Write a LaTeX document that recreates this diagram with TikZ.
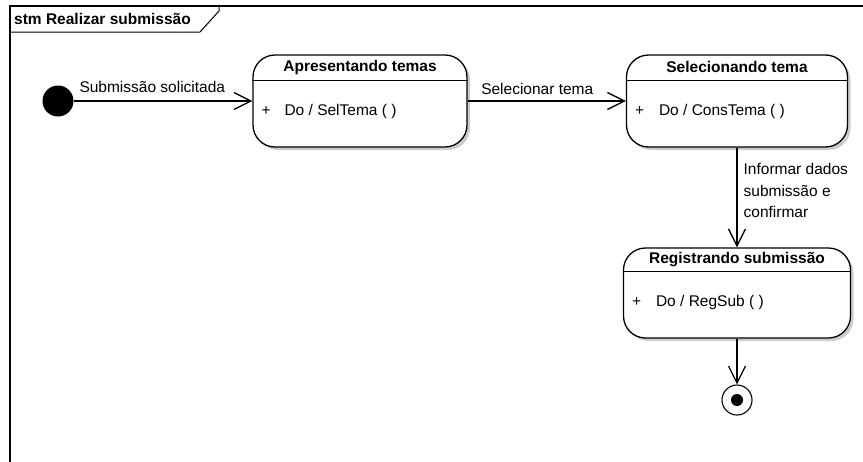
\documentclass[tikz,border=0pt]{standalone}
\usepackage{fontspec}
\setmainfont{Liberation Sans}
\usetikzlibrary{arrows.meta,shadows}

\tikzset{
  state/.style={draw, line width=1.3pt, rounded corners=22pt, fill=white,
    drop shadow={shadow xshift=3pt, shadow yshift=-3pt, fill=black!20, opacity=1}},
  trans/.style={line width=1.3pt, -{Straight Barb[length=17pt,width=17pt]}},
  lbl/.style={font=\fontsize{15.5}{21.5}\selectfont, inner sep=0pt},
  headlbl/.style={font=\bfseries\fontsize{15.5}{21.5}\selectfont, inner sep=0pt},
}

\begin{document}
\begin{tikzpicture}[x=1pt,y=-1pt]
		\useasboundingbox (0,0) rectangle (863,461);

		\draw [line width=1.3pt] (870,6) -- (10,6) -- (10,470);
		\draw [line width=1pt] (10,32) -- (200,32) -- (219,11) -- (219,6);
		\node [headlbl, anchor=west] (title) at (14,19) {stm Realizar submissão};

		\node [fill, circle, minimum size=31pt, inner sep=0pt] (init) at (58,101) {};

		\node [state, minimum width=214pt, minimum height=92pt] (apres) at (360,101) {};
		\draw [line width=1pt] ([yshift=-26pt]apres.north west) -- ([yshift=-26pt]apres.north east);
		\node [headlbl] (apreshead) at ([yshift=-13pt]apres.north) {Apresentando temas};
		\node [lbl, anchor=west] (apresplus) at ([xshift=9pt,yshift=-10pt]apres.west) {+};
		\node [lbl, anchor=west] (apresdo) at ([xshift=32pt,yshift=-10pt]apres.west) {Do / SelTema ( )};

		\node [state, minimum width=221pt, minimum height=92pt] (selec) at (737,101) {};
		\draw [line width=1pt] ([yshift=-26pt]selec.north west) -- ([yshift=-26pt]selec.north east);
		\node [headlbl] (selechead) at ([yshift=-13pt]selec.north) {Selecionando tema};
		\node [lbl, anchor=west] (selecplus) at ([xshift=9pt,yshift=-10pt]selec.west) {+};
		\node [lbl, anchor=west] (selecdo) at ([xshift=33pt,yshift=-10pt]selec.west) {Do / ConsTema ( )};

		\node [state, minimum width=227pt, minimum height=90pt] (regis) at (737,293) {};
		\draw [line width=1pt] ([yshift=-24pt]regis.north west) -- ([yshift=-24pt]regis.north east);
		\node [headlbl] (regishead) at ([yshift=-12pt]regis.north) {Registrando submissão};
		\node [lbl, anchor=west] (regisplus) at ([xshift=9pt,yshift=-9pt]regis.west) {+};
		\node [lbl, anchor=west] (regisdo) at ([xshift=33pt,yshift=-9pt]regis.west) {Do / RegSub ( )};

		\node [draw, circle, line width=1.1pt, minimum size=30pt, inner sep=0pt] (fim) at (737,400) {};
		\node [fill, circle, minimum size=12pt, inner sep=0pt] (fimdot) at (fim) {};

		\draw [trans] (init) -- node [lbl, above=8pt, pos=0.44] {Submissão solicitada} (apres);
		\draw [trans] (apres) -- node [lbl, above=6pt, pos=0.44] {Selecionar tema} (selec);
		\draw [trans] (selec) -- node [lbl, right=6pt, align=left, pos=0.43] {Informar dados\\submissão e\\confirmar} (regis);
		\draw [trans] (regis) -- (fim);
	\end{tikzpicture}
\end{document}
